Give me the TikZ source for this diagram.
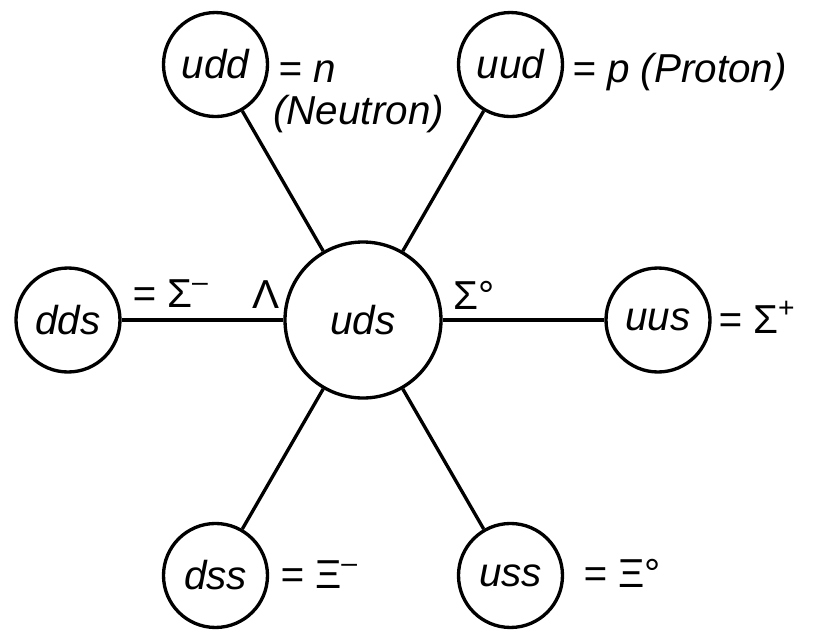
\documentclass[tikz,border=0pt]{standalone}
\usepackage{fontspec}
\usepackage{tikz}
\usetikzlibrary{positioning}
\newfontfamily\quarkfont{Liberation Sans}
\newcommand{\qfont}{\quarkfont\itshape\fontsize{23}{28}\selectfont}

\begin{document}
\begin{tikzpicture}[
    quark/.style={circle, draw, line width=1.9pt, minimum size=2.08cm, inner sep=0pt, font=\qfont},
    spoke/.style={line width=1.9pt},
    lbl/.style={anchor=base west, inner sep=0pt, font=\qfont}
  ]
  \useasboundingbox (-7.26,-6.18) rectangle (9.14,6.4);
  % centre of the hexagon
  \node[quark, minimum size=3.12cm] (uds) at (0,0) {uds};
  % outer ring of baryons
  \node[quark] (udd) at (120:5.9) {udd};
  \node[quark] (uud) at (60:5.9) {uud};
  \node[quark] (dds) at (180:5.9) {dds};
  \node[quark] (uus) at (0:5.9) {uus};
  \node[quark] (dss) at (240:5.9) {dss};
  \node[quark] (uss) at (300:5.9) {uss};
  \foreach \q in {udd,uud,dds,uus,dss,uss}
    \draw[spoke] (uds) -- (\q);
  % particle names
  \node[lbl] (nlbl) at (-1.70,4.76) {= n};
  \node[lbl] (neutron) at (-1.80,3.92) {(Neutron)};
  \node[lbl] (plbl) at (4.18,4.76) {= p (Proton)};
  \node[lbl] (sigmam) at (-4.62,0.26) {= {\upshape Σ\textsuperscript{–}}};
  \node[lbl] (lambda) at (-2.22,0.24) {\upshape Λ};
  \node[lbl] (sigmaz) at (1.80,0.22) {\upshape Σ°};
  \node[lbl] (sigmap) at (7.10,-0.27) {= {\upshape Σ\textsuperscript{+}}};
  \node[lbl] (xim) at (-1.66,-5.36) {= {\upshape Ξ\textsuperscript{–}}};
  \node[lbl] (xiz) at (4.40,-5.34) {= {\upshape Ξ°}};
\end{tikzpicture}
\end{document}
